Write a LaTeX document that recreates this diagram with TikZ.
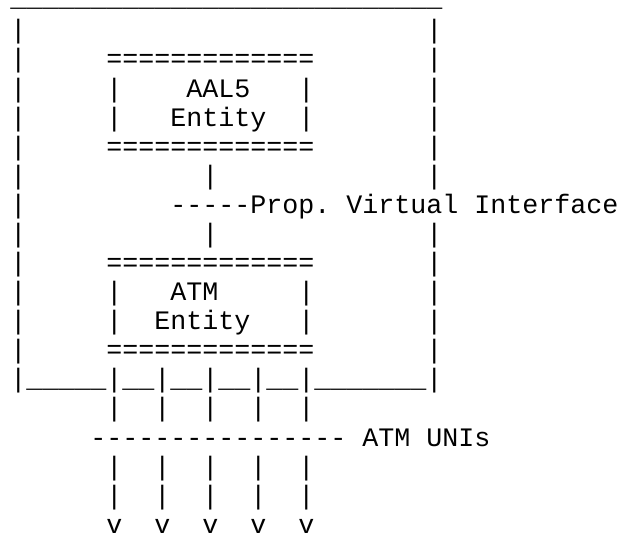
\documentclass[tikz,border=0pt]{standalone}
\usepackage{fontspec}
\newfontfamily\asciifont[Ligatures=TeXOff]{Liberation Mono}

\begin{document}
\begin{tikzpicture}[x=12pt, y=-21.81pt,
    ascii/.style={font=\asciifont\fontsize{20pt}{22pt}\selectfont, inner sep=0pt, anchor=base west}
]
\useasboundingbox (-0.625,-0.337) rectangle (38,18.095);

% outer frame and AAL5 entity
\node[ascii, text height=0pt] (r0) at (0,-0.1) {\_\_\_\_\_\_\_\_\_\_\_\_\_\_\_\_\_\_\_\_\_\_\_\_\_\_\_};
\node[ascii] (r1) at (0,1) {|~~~~~~~~~~~~~~~~~~~~~~~~~|};
\node[ascii] (r2) at (0,2) {|~~~~~=============~~~~~~~|};
\node[ascii] (r3) at (0,3) {|~~~~~|~~~~AAL5~~~|~~~~~~~|};
\node[ascii] (r4) at (0,4) {|~~~~~|~~~Entity~~|~~~~~~~|};
\node[ascii] (r5) at (0,5) {|~~~~~=============~~~~~~~|};
\node[ascii] (r6) at (0,6) {|~~~~~~~~~~~|~~~~~~~~~~~~~|};
\node[ascii] (r7) at (0,7) {|~~~~~~~~~-----Prop.~Virtual~Interface};
\node[ascii] (r8) at (0,8) {|~~~~~~~~~~~|~~~~~~~~~~~~~|};

% ATM entity
\node[ascii] (r9) at (0,9) {|~~~~~=============~~~~~~~|};
\node[ascii] (r10) at (0,10) {|~~~~~|~~~ATM~~~~~|~~~~~~~|};
\node[ascii] (r11) at (0,11) {|~~~~~|~~Entity~~~|~~~~~~~|};
\node[ascii] (r12) at (0,12) {|~~~~~=============~~~~~~~|};
\node[ascii] (r13) at (0,13) {|\_\_\_\_\_|\_\_|\_\_|\_\_|\_\_|\_\_\_\_\_\_\_|};

% ATM UNIs
\node[ascii] (r14) at (6,14) {|~~|~~|~~|~~|};
\node[ascii] (r15) at (5,15) {----------------~ATM~UNIs};
\node[ascii] (r16) at (6,16) {|~~|~~|~~|~~|};
\node[ascii] (r17) at (6,17) {|~~|~~|~~|~~|};
\node[ascii, text height=0.5em, text depth=0pt] (r18) at (6,18) {v~~v~~v~~v~~v};
\end{tikzpicture}
\end{document}
